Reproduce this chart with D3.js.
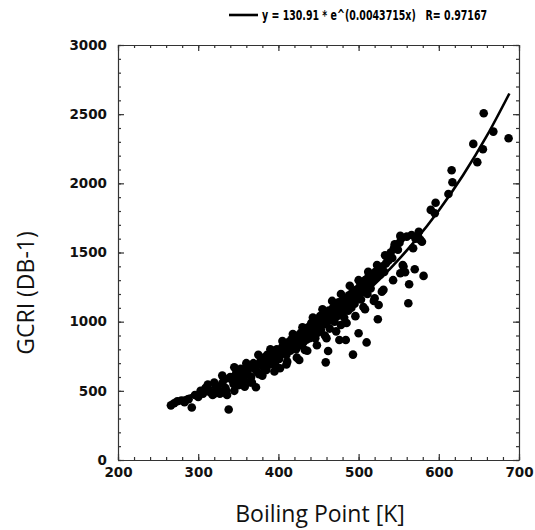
<!DOCTYPE html>
<html>
<head>
<meta charset="utf-8">
<script src="https://cdn.jsdelivr.net/npm/d3@7"></script>
<style>
  body { margin: 0; background: #fff; }
  .tick text { font-family: "DejaVu Sans", sans-serif; font-weight: bold; font-size: 13.5px; fill: #111; }
  .axis path, .axis line { stroke: #333; }
</style>
</head>
<body>
<div id="chart"></div>
<script>
// boiling point [K]
var boilX = [266,270,274,279,283,288,292,296,300,303,306,309,
  312,315,318,320,322,325,327,330,332,334,336,338,340,342,344,345,347,348,350,352,353,355,357,358,360,
  362,364,366,367,369,370,372,373,375,376,378,379,380,382,383,385,386,388,389,390,392,393,395,396,397,398,400,401,402,404,
  405,406,408,409,410,411,412,413,415,416,417,418,420,421,422,424,425,426,427,428,430,431,432,433,434,435,437,438,439,440,441,442,444,445,446,447,448,449,450,451,
  452,453,455,456,457,458,459,460,461,462,463,464,465,466,468,469,470,471,472,473,475,476,477,478,479,480,481,482,484,485,486,487,488,490,491,492,493,494,495,497,
  498,500,501,502,503,505,506,507,508,509,510,511,512,513,515,516,518,520,521,522,524,525,526,527,529,530,532,534,535,537,
  540,542,544,547,549,551,553,555,556,558,560,562,563,566,568,570,571,574,577,579,581,590,595,596,
  612,617,616,643,648,655,656,668,687,
  330,345,360,375,390,405,418,430,443,455,467,478,489,500,512,523,533,545,552,575,
  320,335,350,365,380,395,410,423,436,448,460,472,485,496,508,519,531,543,552];
// GCRI (DB-1)
var gcri = [395,410,425,430,418,440,380,470,455,500,480,520,
  545,490,470,560,530,510,480,555,590,520,470,365,600,580,550,500,620,640,590,560,660,610,580,530,650,
  620,680,600,560,700,660,526,640,690,620,720,627,680,740,700,650,760,720,690,740,700,780,750,720,680,800,760,730,663,790,
  820,770,840,800,760,711,850,820,790,870,840,810,880,850,800,900,860,723,830,920,890,850,940,795,900,870,960,920,880,950,990,910,970,940,880,1010,960,920,1000,970,
  1040,940,1010,980,1060,900,706,1030,1000,788,1080,950,1050,1010,1100,1060,1000,1120,1080,1040,1140,868,1100,976,1060,1150,1110,1030,868,1170,1130,1080,1190,1150,1100,1210,762,1170,1130,1230,
  1190,916,1250,1210,1160,1270,1106,1230,1300,1260,850,1200,1320,1280,1240,1340,1300,1169,1360,1320,1017,1121,1380,1340,1217,1400,1360,1420,1470,1440,
  1500,1460,1530,1555,1520,1570,1600,1410,1398,1357,1615,1133,1271,1627,1531,1379,1600,1620,1591,1578,1331,1808,1784,1860,
  1923,2008,2095,2285,2153,2246,2507,2374,2326,
  610,670,700,760,800,860,910,960,1030,1090,1150,1200,1260,1300,1360,1410,1480,1560,1620,1650,
  480,500,540,560,610,640,690,740,790,830,880,930,990,1040,1090,1150,1230,1300,1350];

// exponential fit y = a * e^(b x)
var fitA = 130.91, fitB = 0.0043715;
var fitX = [268, 300, 330, 360, 390, 420, 450, 480, 510, 540, 570, 600, 630, 660, 688];

var xTicks = [200, 300, 400, 500, 600, 700];
var yTicks = [0, 500, 1000, 1500, 2000, 2500, 3000];
var legendText = "y = 130.91 * e^(0.0043715x)\u00a0\u00a0\u00a0R= 0.97167";

var margin = {top: 45, right: 16, bottom: 70, left: 118},
    width = 401,
    height = 415;

var svg = d3.select("#chart").append("svg")
    .attr("width", 535)
    .attr("height", 530);

var g = svg.append("g")
    .attr("transform", "translate(" + margin.left + "," + margin.top + ")");

var x = d3.scaleLinear().domain([200, 700]).range([0, width]);
var y = d3.scaleLinear().domain([0, 3000]).range([height, 0]);

// minor ticks (inward) on all four sides
var xMinor = d3.range(200, 701, 20), yMinor = d3.range(0, 3001, 100);
g.append("g").attr("class", "axis")
    .attr("transform", "translate(0," + height + ")")
    .call(d3.axisBottom(x).tickValues(xMinor).tickSize(-3).tickFormat(""))
    .call(function(s) { s.select(".domain").remove(); });
g.append("g").attr("class", "axis")
    .call(d3.axisTop(x).tickValues(xMinor).tickSize(-3).tickFormat(""))
    .call(function(s) { s.select(".domain").remove(); });
g.append("g").attr("class", "axis")
    .call(d3.axisLeft(y).tickValues(yMinor).tickSize(-3).tickFormat(""))
    .call(function(s) { s.select(".domain").remove(); });
g.append("g").attr("class", "axis")
    .attr("transform", "translate(" + width + ",0)")
    .call(d3.axisRight(y).tickValues(yMinor).tickSize(-3).tickFormat(""))
    .call(function(s) { s.select(".domain").remove(); });

// major axes
g.append("g").attr("class", "axis")
    .attr("transform", "translate(0," + height + ")")
    .call(d3.axisBottom(x).tickValues(xTicks).tickSize(-6).tickPadding(10).tickSizeOuter(0).tickFormat(d3.format("d")))
    .call(function(s) { s.selectAll("text").attr("dy", "0.55em"); });
g.append("g").attr("class", "axis")
    .call(d3.axisLeft(y).tickValues(yTicks).tickSize(-6).tickPadding(11).tickSizeOuter(0).tickFormat(d3.format("d")));
g.append("g").attr("class", "axis")
    .call(d3.axisTop(x).tickValues(xTicks).tickSize(-6).tickFormat("").tickSizeOuter(0));
g.append("g").attr("class", "axis")
    .attr("transform", "translate(" + width + ",0)")
    .call(d3.axisRight(y).tickValues(yTicks).tickSize(-6).tickFormat("").tickSizeOuter(0));

g.selectAll(".axis path, .axis line").attr("stroke-width", 1.2);

// points
g.selectAll(".dot")
    .data(boilX)
    .enter().append("circle")
    .attr("class", "dot")
    .attr("cx", function(d) { return x(d); })
    .attr("cy", function(d, i) { return y(gcri[i]); })
    .attr("r", 4.3)
    .attr("fill", "#000");

// fit curve
var line = d3.line()
    .x(function(d) { return x(d); })
    .y(function(d) { return y(fitA * Math.exp(fitB * d)); })
    .curve(d3.curveMonotoneX);

g.append("path")
    .datum(fitX)
    .attr("fill", "none")
    .attr("stroke", "#000")
    .attr("stroke-width", 2.6)
    .attr("d", line);

// legend
svg.append("line")
    .attr("x1", 229).attr("x2", 258)
    .attr("y1", 15).attr("y2", 15)
    .attr("stroke", "#000")
    .attr("stroke-width", 2.6);

// squeeze the legend text horizontally so it fits like the narrow original font
svg.append("text")
    .attr("transform", "translate(262,20) scale(0.70,1)")
    .style("font-family", "DejaVu Sans, sans-serif")
    .style("font-weight", "bold")
    .style("font-size", "13.5px")
    .text(legendText);

// axis titles
svg.append("text")
    .attr("transform", "translate(34," + 293 + ") rotate(-90)")
    .style("text-anchor", "middle")
    .style("font-family", "Open Sans, sans-serif")
    .style("font-size", "23px")
    .style("fill", "#111")
    .text("GCRI (DB-1)");

svg.append("text")
    .attr("x", 320)
    .attr("y", 522)
    .style("text-anchor", "middle")
    .style("font-family", "Open Sans, sans-serif")
    .style("font-size", "23px")
    .style("fill", "#111")
    .text("Boiling Point [K]");
</script>
</body>
</html>
